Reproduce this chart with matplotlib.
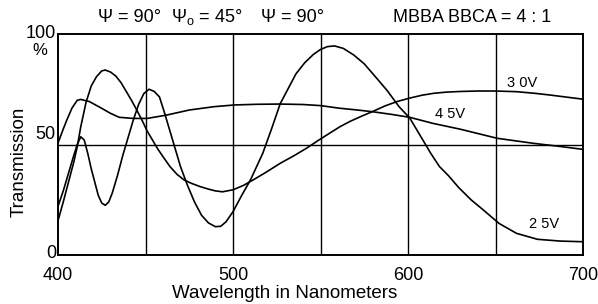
import matplotlib
matplotlib.use("Agg")
import matplotlib.pyplot as plt

plt.rcParams['font.family'] = ['Liberation Sans', 'DejaVu Sans']
plt.rcParams['mathtext.fontset'] = 'custom'
plt.rcParams['mathtext.rm'] = 'Liberation Sans'

# wavelength (nm) / transmission (%)
wl_25 = [400, 403, 406, 409, 411, 413, 415, 417, 419, 421, 423, 425, 427, 429,
         431, 434, 437, 440, 443, 446, 449, 452, 455, 458, 461, 464, 467, 470,
         474, 478, 482, 486, 490, 493, 496, 500, 505, 510, 517, 522, 527, 532,
         536, 541, 546, 550, 554, 558, 563, 569, 575, 581, 588, 595, 601, 607,
         613, 618, 623, 629, 636, 643, 652, 662, 674, 687, 700]
tr_25 = [22, 29, 37, 45, 50, 53.5, 52, 46, 39, 33, 27, 23.5, 22.5, 24,
         28, 36, 45, 53, 61, 68, 73, 75, 74, 71.5, 64, 56, 48, 40,
         31.5, 24, 18, 14.5, 12.8, 13, 15, 19.6, 27, 34, 46, 57, 68.5, 76,
         82, 87, 90.8, 93, 94.3, 94.6, 93.5, 90.5, 86.5, 81, 74.5, 67, 62,
         54, 46, 40, 36, 30.5, 25, 20.4, 14.3, 9.8, 7.1, 6.3, 6]

wl_30 = [400, 403, 406, 409, 411, 413, 416, 419, 422, 425, 427, 430, 433, 436,
         439, 442, 445, 448, 451, 454, 457, 460, 464, 468, 472, 476, 481, 486,
         490, 494, 500, 506, 512, 519, 527, 535, 542, 549, 555, 561, 567, 574,
         580, 587, 594, 601, 608, 615, 622, 630, 640, 650, 662, 672, 681, 690,
         700]
tr_30 = [15.5, 24, 33, 42, 49, 58, 69, 76.5, 80.7, 83.3, 83.7, 82.8, 81, 78,
         74, 70, 65.6, 61, 56, 52, 48, 44.5, 40, 36.5, 34, 32.5, 31, 29.8,
         29, 28.6, 29.5, 31.5, 34.2, 37.5, 41.5, 45, 48.3, 52, 55, 58, 60.5, 63,
         65, 67.5, 69.5, 71, 72.3, 73.2, 73.7, 74, 74.2, 74.2, 73.9, 73.2, 72.4, 71.5,
         70.5]

wl_45 = [400, 403, 405, 408, 411, 413, 418, 424, 430, 435, 443, 451, 462, 475,
         489, 501, 514, 527, 540, 550, 561, 570, 580, 590, 601, 614, 630, 651,
         672, 686, 700]
tr_45 = [50.7, 57, 61, 66.5, 70, 70.4, 69.4, 66.8, 64.1, 62.3, 61.8, 61.8, 63.3, 65.6,
         67.1, 67.9, 68.2, 68.3, 68.1, 67.6, 66.4, 65.7, 64.8, 63.7, 62.3, 59.6, 56.9, 52.8,
         50.5, 49.2, 47.8]

grid_x = [450, 500, 550, 600, 650]
grid_y = [50]
xticks = [400, 500, 600, 700]
yticks = [0, 50, 100]

fig = plt.figure(figsize=(5.98, 3.04), dpi=100)
ax = fig.add_axes([58 / 598, 49 / 304, 525 / 598, 221 / 304])

for gx in grid_x:
    ax.axvline(gx, color="black", lw=1.0)
for gy in grid_y:
    ax.axhline(gy, color="black", lw=1.0)

for wl, tr in [(wl_25, tr_25), (wl_30, tr_30), (wl_45, tr_45)]:
    ax.plot(wl, tr, color="black", lw=1.2)

ax.set_xlim(400, 700)
ax.set_ylim(0, 100)
for s in ax.spines.values():
    s.set_linewidth(1.4)
ax.set_xticks(xticks)
ax.set_xticklabels([str(v) for v in xticks], fontsize=13)
ax.set_yticks([])
ax.tick_params(axis="x", length=0, pad=9)

# y labels are placed by hand, the 50 sits above its line
ylab_off = {0: 0.5, 50: 4.5, 100: 0}
for v in yticks:
    ax.text(-0.004, v + ylab_off[v], str(v), transform=ax.get_yaxis_transform(),
            ha="right", va="center", fontsize=13)
ax.text(-0.02, 92.5, "%", transform=ax.get_yaxis_transform(),
        ha="right", va="center", fontsize=12)

ax.text(665, 78, "3 0V", fontsize=10.5, ha="center", va="center")
ax.text(624, 64, "4 5V", fontsize=10.5, ha="center", va="center")
ax.text(678, 14, "2 5V", fontsize=10.5, ha="center", va="center")

fig.text(130 / 598, 1 - 17 / 304, "Ψ = 90°", fontsize=13, ha="center", va="center")
fig.text(207 / 598, 1 - 17 / 304, r"$\mathregular{Ψ_o}$ = 45°", fontsize=13,
         ha="center", va="center")
fig.text(293 / 598, 1 - 17 / 304, "Ψ = 90°", fontsize=13, ha="center", va="center")
fig.text(472 / 598, 1 - 17 / 304, "MBBA BBCA = 4 : 1", fontsize=13,
         ha="center", va="center")

fig.text(285 / 598, 1 - 294 / 304, "Wavelength in Nanometers", fontsize=13.5,
         ha="center", va="center")
fig.text(19 / 598, 1 - 162 / 304, "Transmission", fontsize=13.5, rotation=90,
         ha="center", va="center")

fig.savefig("out.png", dpi=100)
